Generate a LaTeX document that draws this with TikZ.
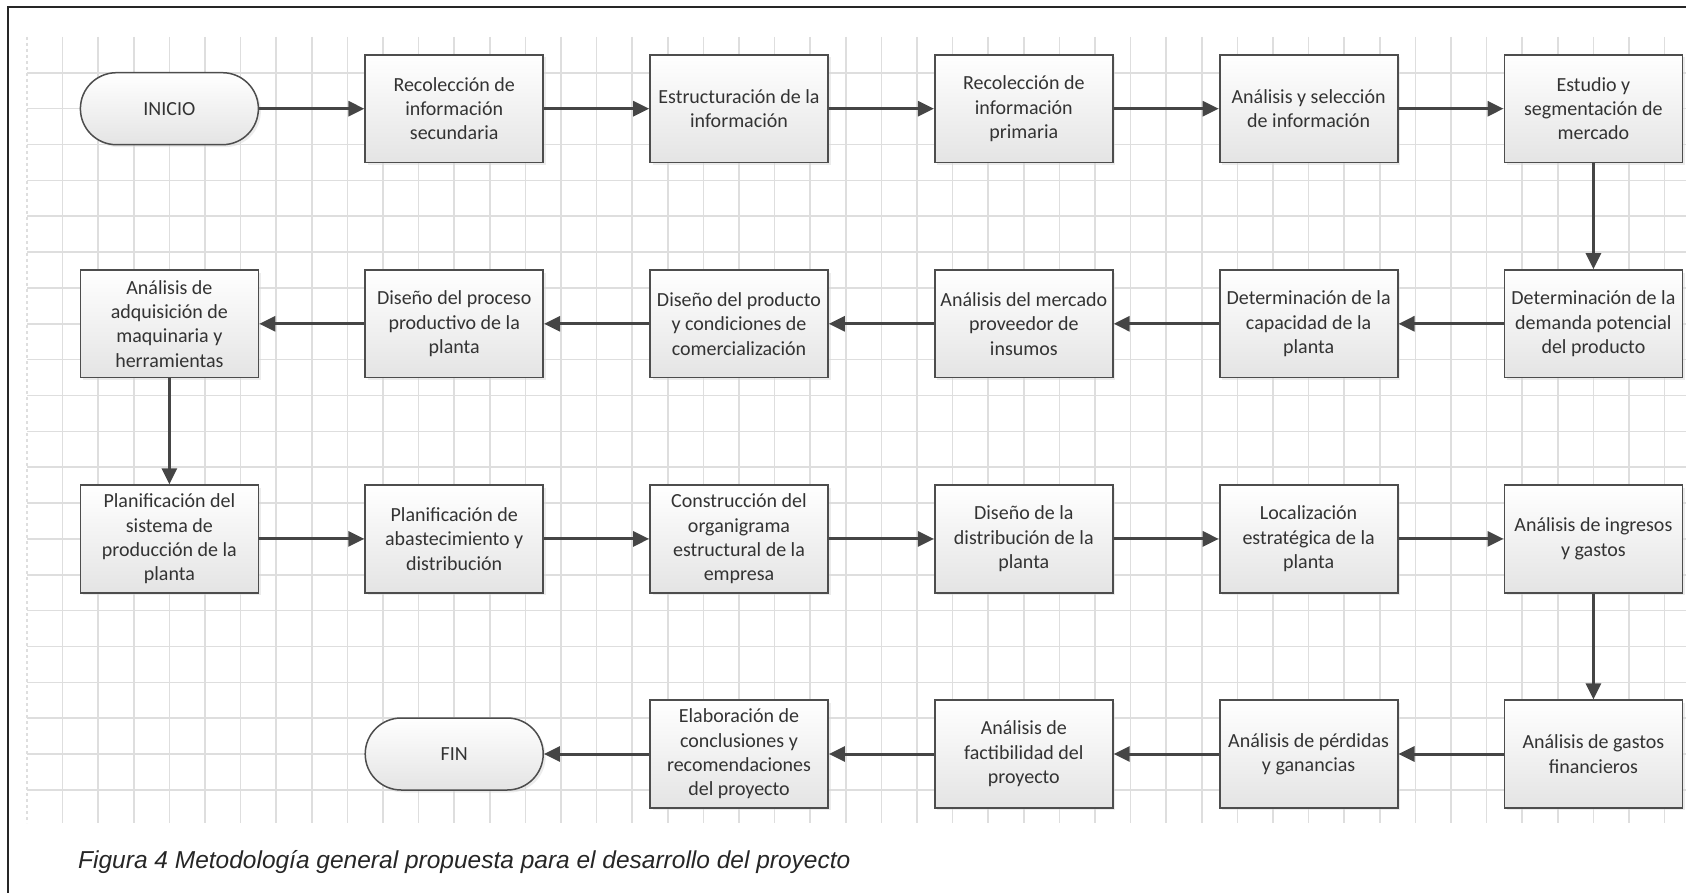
\documentclass[tikz,border=0pt]{standalone}
\usepackage{fontspec}
\setmainfont{Carlito}
\newfontfamily\capfont{Liberation Sans}
\usetikzlibrary{arrows.meta,shapes.misc,shadows}
\definecolor{gridc}{HTML}{DEDEDE}
\definecolor{boxline}{HTML}{4D4D4D}
\definecolor{arrowc}{HTML}{454545}
\definecolor{txt}{HTML}{333333}
\definecolor{boxbot}{HTML}{E4E4E4}
\begin{document}
\begin{tikzpicture}[x=1pt,y=-1pt,
  box/.style={draw=boxline, line width=1.8pt, top color=white, bottom color=boxbot,
    minimum width=178pt, minimum height=107.5pt, inner sep=0pt, align=center,
    font=\fontsize{20}{24.4}\selectfont, text=txt,
    drop shadow={shadow xshift=2.5pt, shadow yshift=-2.5pt, fill=black!15}},
  term/.style={rounded rectangle, draw=boxline, line width=1.5pt, top color=white, bottom color=boxbot,
    minimum width=178pt, minimum height=72pt, inner sep=0pt, align=center,
    font=\fontsize{20}{24.4}\selectfont, text=txt,
    drop shadow={shadow xshift=2.5pt, shadow yshift=-2.5pt, fill=black!15}},
  flow/.style={draw=arrowc, line width=3pt, -{Triangle[length=16pt,width=15pt]}},
  gridline/.style={draw=gridc, line width=1.6pt}]
\useasboundingbox (0,0) rectangle (1686,893);
% grid
\foreach \i in {1,...,46} \draw[gridline] ({27+35.6*\i},37) -- ({27+35.6*\i},823);
\draw[gridline,dashed] (27,37) -- (27,823);
\foreach \j in {1,...,21} \draw[gridline] (27,{37+35.85*\j}) -- (1686,{37+35.85*\j});
% frame
\draw[line width=2.5pt, black!85] (1686,7) -- (8,7) -- (8,893);
% row 1
\node[term] (a0) at (169.4,108.7) {INICIO};
\node[box] (a1) at (454.2,108.7) {Recolección de\\información\\secundaria};
\node[box] (a2) at (739.0,108.7) {Estructuración de la\\información};
\node[box] (a3) at (1023.8,108.7) {Recolección de\\información\\primaria};
\node[box] (a4) at (1308.6,108.7) {Análisis y selección\\de información};
\node[box] (a5) at (1593.4,108.7) {Estudio y\\segmentación de\\mercado};
% row 2
\node[box] (b0) at (169.4,323.8) {Análisis de\\adquisición de\\maquinaria y\\herramientas};
\node[box] (b1) at (454.2,323.8) {Diseño del proceso\\productivo de la\\planta};
\node[box] (b2) at (739.0,323.8) {Diseño del producto\\y condiciones de\\comercialización};
\node[box] (b3) at (1023.8,323.8) {Análisis del mercado\\proveedor de\\insumos};
\node[box] (b4) at (1308.6,323.8) {Determinación de la\\capacidad de la\\planta};
\node[box] (b5) at (1593.4,323.8) {Determinación de la\\demanda potencial\\del producto};
% row 3
\node[box] (c0) at (169.4,538.9) {Planificación del\\sistema de\\producción de la\\planta};
\node[box] (c1) at (454.2,538.9) {Planificación de\\abastecimiento y\\distribución};
\node[box] (c2) at (739.0,538.9) {Construcción del\\organigrama\\estructural de la\\empresa};
\node[box] (c3) at (1023.8,538.9) {Diseño de la\\distribución de la\\planta};
\node[box] (c4) at (1308.6,538.9) {Localización\\estratégica de la\\planta};
\node[box] (c5) at (1593.4,538.9) {Análisis de ingresos\\y gastos};
% row 4
\node[term] (d1) at (454.2,754.0) {FIN};
\node[box] (d2) at (739.0,754.0) {Elaboración de\\conclusiones y\\recomendaciones\\del proyecto};
\node[box] (d3) at (1023.8,754.0) {Análisis de\\factibilidad del\\proyecto};
\node[box] (d4) at (1308.6,754.0) {Análisis de pérdidas\\y ganancias};
\node[box] (d5) at (1593.4,754.0) {Análisis de gastos\\financieros};
% connectors
\draw[flow] (a0.east) -- (a1.west);
\draw[flow] (a1.east) -- (a2.west);
\draw[flow] (a2.east) -- (a3.west);
\draw[flow] (a3.east) -- (a4.west);
\draw[flow] (a4.east) -- (a5.west);
\draw[flow] (a5.south) -- (b5.north);
\draw[flow] (b5.west) -- (b4.east);
\draw[flow] (b4.west) -- (b3.east);
\draw[flow] (b3.west) -- (b2.east);
\draw[flow] (b2.west) -- (b1.east);
\draw[flow] (b1.west) -- (b0.east);
\draw[flow] (b0.south) -- (c0.north);
\draw[flow] (c0.east) -- (c1.west);
\draw[flow] (c1.east) -- (c2.west);
\draw[flow] (c2.east) -- (c3.west);
\draw[flow] (c3.east) -- (c4.west);
\draw[flow] (c4.east) -- (c5.west);
\draw[flow] (c5.south) -- (d5.north);
\draw[flow] (d5.west) -- (d4.east);
\draw[flow] (d4.west) -- (d3.east);
\draw[flow] (d3.west) -- (d2.east);
\draw[flow] (d2.west) -- (d1.east);
% caption
\node[anchor=base west, inner sep=0pt, text=black!85, font=\capfont\itshape\fontsize{24.5}{28}\selectfont] (cap) at (78,868) {Figura 4 Metodología general propuesta para el desarrollo del proyecto};
\end{tikzpicture}
\end{document}
